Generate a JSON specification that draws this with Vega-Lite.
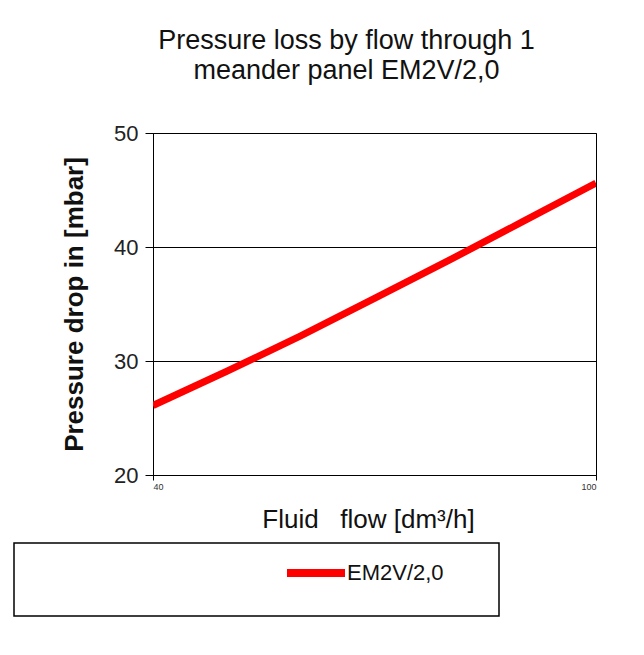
{
  "$schema": "https://vega.github.io/schema/vega-lite/v6.json",
  "autosize": "none",
  "width": 443,
  "height": 342,
  "padding": {"left": 153, "top": 133, "right": 48, "bottom": 180},
  "background": "white",
  "title": {
    "text": ["Pressure loss by flow through 1", "meander panel EM2V/2,0"],
    "fontSize": 27,
    "font": "Liberation Sans",
    "fontWeight": "normal",
    "color": "#111111",
    "lineHeight": 30,
    "anchor": "middle",
    "dx": -28,
    "offset": 37
  },
  "data": {
    "values": [
      {"flow": 40, "drop": 26.1, "series": "EM2V/2,0"},
      {"flow": 50, "drop": 29.1, "series": "EM2V/2,0"},
      {"flow": 60, "drop": 32.2, "series": "EM2V/2,0"},
      {"flow": 70, "drop": 35.5, "series": "EM2V/2,0"},
      {"flow": 80, "drop": 38.8, "series": "EM2V/2,0"},
      {"flow": 90, "drop": 42.2, "series": "EM2V/2,0"},
      {"flow": 100, "drop": 45.6, "series": "EM2V/2,0"}
    ]
  },
  "mark": {"type": "line", "strokeWidth": 7, "strokeCap": "butt", "clip": true},
  "encoding": {
    "x": {
      "field": "flow",
      "type": "quantitative",
      "scale": {"domain": [40, 100], "nice": false, "zero": false},
      "axis": {
        "values": [40, 100],
        "title": "Fluid\u00a0\u00a0\u00a0flow [dm³/h]",
        "titleFontSize": 26,
        "titleFontWeight": "normal",
        "titleColor": "#111111",
        "titlePadding": 15,
        "titleX": 215,
        "labelFontSize": 9,
        "labelColor": "#333333",
        "labelPadding": 2,
        "grid": false,
        "tickSize": 5,
        "tickColor": "black",
        "domainColor": "black"
      }
    },
    "y": {
      "field": "drop",
      "type": "quantitative",
      "scale": {"domain": [20, 50], "nice": false, "zero": false},
      "axis": {
        "values": [20, 30, 40, 50],
        "grid": true,
        "gridColor": "black",
        "gridOpacity": 1,
        "gridWidth": 1,
        "tickSize": 8,
        "tickColor": "black",
        "domainColor": "black",
        "labelFontSize": 22,
        "labelColor": "#222222",
        "labelPadding": 7,
        "title": "Pressure drop in [mbar]",
        "titleFontSize": 26,
        "titleFontWeight": "bold",
        "titleColor": "#111111",
        "titlePadding": 26
      }
    },
    "color": {
      "field": "series",
      "type": "nominal",
      "scale": {"range": ["#ff0000"]},
      "legend": {
        "orient": "none",
        "legendX": -139,
        "legendY": 410,
        "direction": "horizontal",
        "padding": 0,
        "clipHeight": 60,
        "strokeColor": "black",
        "fillColor": "white",
        "symbolType": "stroke",
        "symbolSize": 3364,
        "symbolStrokeWidth": 8,
        "symbolOffset": 269,
        "labelFontSize": 22,
        "labelOffset": -2,
        "labelColor": "#111111",
        "title": "\u00a0",
        "titleOrient": "right",
        "titleFontSize": 73,
        "titleBaseline": "top",
        "titleAnchor": "start",
        "titlePadding": 55
      }
    }
  },
  "config": {
    "font": "Liberation Sans",
    "view": {"stroke": "black", "strokeWidth": 1},
    "legend": {"strokeWidth": 1.5}
  }
}
